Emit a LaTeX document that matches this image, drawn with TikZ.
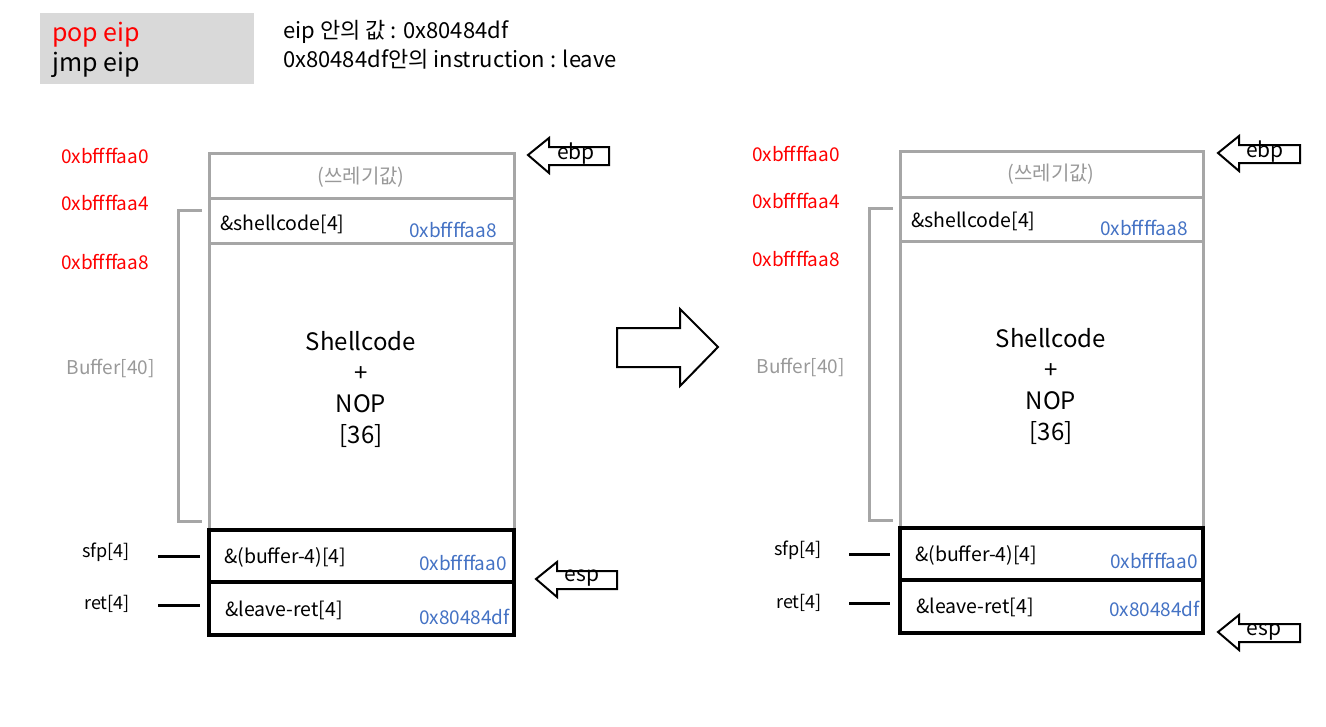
\documentclass[tikz,border=0pt]{standalone}
\usepackage{fontspec}
\setmainfont{Noto Sans CJK KR}
\definecolor{addrred}{HTML}{FF0000}
\definecolor{valblue}{HTML}{4472C4}
\definecolor{linegray}{HTML}{A6A6A6}
\definecolor{txtgray}{HTML}{999999}
\definecolor{boxgray}{HTML}{D9D9D9}
\tikzset{
  fs/.style={font=\fontsize{#1}{#1}\selectfont},
  graycell/.style={draw=linegray, line width=3pt, rectangle, inner sep=0pt, outer sep=0pt, anchor=north west},
  blackcell/.style={draw=black, line width=3.2pt, rectangle, inner sep=0pt, outer sep=0pt, anchor=north west},
  addr/.style={fs=19, text=addrred, anchor=west, inner sep=0pt},
  val/.style={fs=19, text=valblue, anchor=east, inner sep=0pt},
  celltxt/.style={fs=19.5, anchor=west, inner sep=0pt},
  sidelbl/.style={fs=18, anchor=east, inner sep=0pt},
  buflbl/.style={fs=19, text=txtgray, anchor=east, inner sep=0pt},
  garbage/.style={fs=20, text=txtgray, inner sep=0pt},
  bigtxt/.style={fs=24, inner sep=0pt, align=center},
  bracket/.style={draw=linegray, line width=3pt},
  tick/.style={draw=black, line width=3pt},
  blockarrow/.style={draw=black, line width=2pt, fill=white, line join=miter},
  reglbl/.style={fs=21, inner sep=0pt},
}
\begin{document}
\begin{tikzpicture}[x=1pt,y=-1pt]
\useasboundingbox (0,0) rectangle (1326,726);

% top-left instruction box
\node[fill=boxgray, minimum width=214pt, minimum height=71pt, anchor=north west, inner sep=0pt] (instr) at (40,13) {};
\node[fs=25, text=addrred, anchor=west, inner sep=0pt] (pop) at (52,35) {pop eip};
\node[fs=25, anchor=west, inner sep=0pt] (jmp) at (52,65) {jmp eip};
\node[fs=22, anchor=west, inner sep=0pt] (note1) at (283,32) {eip 안의 값 : 0x80484df};
\node[fs=22, anchor=west, inner sep=0pt] (note2) at (283,59) {0x80484df안의 instruction : leave};

% ===== left stack =====
\node[graycell, minimum width=305pt, minimum height=45pt] (Lg) at (209,153) {};
\node[graycell, minimum width=305pt, minimum height=45pt] (Ls) at (209,198) {};
\node[graycell, minimum width=305pt, minimum height=287pt] (Lb) at (209,243) {};
\node[blackcell, minimum width=305pt, minimum height=52pt] (Lf) at (209,530) {};
\node[blackcell, minimum width=305pt, minimum height=53pt] (Lr) at (209,582) {};

\node[garbage] (Lgt) at (361,177) {(쓰레기값)};
\node[celltxt] (Lst) at (220,224) {\&shellcode[4]};
\node[val] (Lsv) at (497,230) {0xbffffaa8};
\node[bigtxt] (Lbt) at (361,389) {Shellcode\\[7pt]+\\[7pt]NOP\\[7pt][36]};
\node[celltxt] (Lft) at (224,557) {\&(buffer-4)[4]};
\node[val] (Lfv) at (507,563) {0xbffffaa0};
\node[celltxt] (Lrt) at (225,610) {\&leave-ret[4]};
\node[val] (Lrv) at (510,617) {0x80484df};

\node[addr] (La0) at (61,156) {0xbffffaa0};
\node[addr] (La4) at (61,203) {0xbffffaa4};
\node[addr] (La8) at (61,262) {0xbffffaa8};
\node[buflbl] (Lbuf) at (155,368) {Buffer[40]};
\node[sidelbl] (Lsfp) at (130,552) {sfp[4]};
\node[sidelbl] (Lret) at (130,604) {ret[4]};

\coordinate (Lbk1) at (202,210);
\coordinate (Lbk2) at (202,521);
\draw[bracket] (Lbk1) -- (178,210) -- (178,521) -- (Lbk2);
\coordinate (Lsfp1) at (158,556); \coordinate (Lsfp2) at (200,556);
\coordinate (Lret1) at (158,605); \coordinate (Lret2) at (200,605);
\draw[tick] (Lsfp1) -- (Lsfp2);
\draw[tick] (Lret1) -- (Lret2);

% left ebp arrow
\draw[blockarrow] (528,155) -- (549,138) -- (549,147) -- (609,147) -- (609,165) -- (549,165) -- (549,173) -- cycle;
\node[reglbl] (Lebp) at (576,154) {ebp};
% left esp arrow
\draw[blockarrow] (536,579) -- (557,562) -- (557,571) -- (617,571) -- (617,589) -- (557,589) -- (557,597) -- cycle;
\node[reglbl] (Lesp) at (582,578) {esp};

% middle arrow
\draw[blockarrow] (617,328) -- (680,328) -- (680,309) -- (718,347) -- (680,386) -- (680,367) -- (617,367) -- cycle;

% ===== right stack =====
\node[graycell, minimum width=303pt, minimum height=46pt] (Rg) at (900,151) {};
\node[graycell, minimum width=303pt, minimum height=44pt] (Rs) at (900,197) {};
\node[graycell, minimum width=303pt, minimum height=287pt] (Rb) at (900,241) {};
\node[blackcell, minimum width=303pt, minimum height=52pt] (Rf) at (900,528) {};
\node[blackcell, minimum width=303pt, minimum height=53pt] (Rr) at (900,580) {};

\node[garbage] (Rgt) at (1051,174) {(쓰레기값)};
\node[celltxt] (Rst) at (911,221) {\&shellcode[4]};
\node[val] (Rsv) at (1188,228) {0xbffffaa8};
\node[bigtxt] (Rbt) at (1051,386) {Shellcode\\[7pt]+\\[7pt]NOP\\[7pt][36]};
\node[celltxt] (Rft) at (915,555) {\&(buffer-4)[4]};
\node[val] (Rfv) at (1198,561) {0xbffffaa0};
\node[celltxt] (Rrt) at (916,607) {\&leave-ret[4]};
\node[val] (Rrv) at (1200,609) {0x80484df};

\node[addr] (Ra0) at (752,154) {0xbffffaa0};
\node[addr] (Ra4) at (752,201) {0xbffffaa4};
\node[addr] (Ra8) at (752,259) {0xbffffaa8};
\node[buflbl] (Rbuf) at (845,367) {Buffer[40]};
\node[sidelbl] (Rsfp) at (822,550) {sfp[4]};
\node[sidelbl] (Rret) at (822,603) {ret[4]};

\coordinate (Rbk1) at (893,208);
\coordinate (Rbk2) at (893,520);
\draw[bracket] (Rbk1) -- (869,208) -- (869,520) -- (Rbk2);
\coordinate (Rsfp1) at (849,554); \coordinate (Rsfp2) at (890,554);
\coordinate (Rret1) at (849,603); \coordinate (Rret2) at (890,603);
\draw[tick] (Rsfp1) -- (Rsfp2);
\draw[tick] (Rret1) -- (Rret2);

% right ebp arrow
\draw[blockarrow] (1218,153) -- (1239,136) -- (1239,145) -- (1300,145) -- (1300,163) -- (1239,163) -- (1239,171) -- cycle;
\node[reglbl] (Rebp) at (1265,152) {ebp};
% right esp arrow
\draw[blockarrow] (1218,632) -- (1239,615) -- (1239,624) -- (1300,624) -- (1300,642) -- (1239,642) -- (1239,650) -- cycle;
\node[reglbl] (Resp) at (1264,632) {esp};
\end{tikzpicture}
\end{document}
